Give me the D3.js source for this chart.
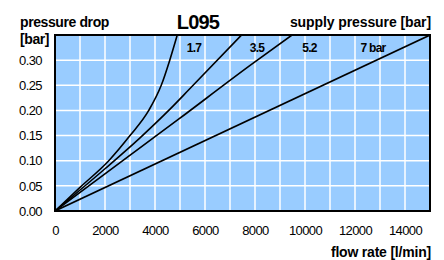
<!DOCTYPE html>
<html>
<head>
<meta charset="utf-8">
<script src="https://cdn.jsdelivr.net/npm/d3@7"></script>
<style>
  html, body { margin: 0; padding: 0; background: #fff; }
  svg { display: block; font-family: 'Liberation Sans', Arial, Helvetica, sans-serif; }
</style>
</head>
<body>
<div id="chart"></div>
<script>
// Pressure drop curves per supply pressure (flow in l/min, drop in bar)
const series = ['1.7', '3.5', '5.2', '7 bar'];
const flow17 = [0, 1000, 2150, 3000, 3750, 4250, 4590, 4890];
const drop17 = [0, 0.047, 0.10, 0.15, 0.20, 0.25, 0.30, 0.35];
const flow35 = [0, 2000, 3390, 4590, 5390, 7460];
const drop35 = [0, 0.084, 0.145, 0.202, 0.243, 0.35];
const flow52 = [0, 4930, 7790, 9480];
const drop52 = [0, 0.182, 0.289, 0.35];
const flow70 = [0, 15000];
const drop70 = [0, 0.35];
const xTicks = [0, 2000, 4000, 6000, 8000, 10000, 12000, 14000];
const yTicks = [0, 0.05, 0.10, 0.15, 0.20, 0.25, 0.30];
// label anchors in data units
const labelFlow = [5560, 8080, 10180, 12720];
const labelDrop = [0.322, 0.322, 0.322, 0.322];

const W = 444, H = 260;
const margin = { top: 35, right: 14, bottom: 49, left: 55 };

const svg = d3.select('#chart').append('svg')
  .attr('width', W)
  .attr('height', H);

const x = d3.scaleLinear().domain([0, 15000]).range([margin.left, W - margin.right]);
const y = d3.scaleLinear().domain([0, 0.35]).range([H - margin.bottom, margin.top]);

// Plot background
svg.append('rect')
  .attr('x', x(0)).attr('y', y(0.35))
  .attr('width', x(15000) - x(0)).attr('height', y(0) - y(0.35))
  .attr('fill', '#99ccff');

// Grid
svg.append('g')
  .selectAll('line.vg')
  .data(d3.range(1000, 15000, 1000))
  .join('line')
  .attr('x1', d => x(d)).attr('x2', d => x(d))
  .attr('y1', y(0.35)).attr('y2', y(0))
  .attr('stroke', '#fff')
  .attr('stroke-width', 1.5);

svg.append('g')
  .selectAll('line.hg')
  .data(yTicks.filter(d => d > 0))
  .join('line')
  .attr('x1', x(0)).attr('x2', x(15000))
  .attr('y1', d => y(d)).attr('y2', d => y(d))
  .attr('stroke', '#fff')
  .attr('stroke-width', 1.5);

// Curves
const clipId = 'plot-clip';
svg.append('clipPath').attr('id', clipId)
  .append('rect')
  .attr('x', x(0)).attr('y', y(0.35))
  .attr('width', x(15000) - x(0)).attr('height', y(0) - y(0.35));

const line = d3.line()
  .x(d => x(d[0]))
  .y(d => y(d[1]))
  .curve(d3.curveMonotoneX);

const curves = [
  d3.zip(flow17, drop17),
  d3.zip(flow35, drop35),
  d3.zip(flow52, drop52),
  d3.zip(flow70, drop70)
];

svg.append('g')
  .attr('clip-path', `url(#${clipId})`)
  .selectAll('path')
  .data(curves)
  .join('path')
  .attr('d', line)
  .attr('fill', 'none')
  .attr('stroke', '#000')
  .attr('stroke-width', 1.6);

// Series labels
svg.append('g')
  .selectAll('text')
  .data(series)
  .join('text')
  .attr('x', (d, i) => x(labelFlow[i]))
  .attr('y', (d, i) => y(labelDrop[i]))
  .attr('text-anchor', 'middle')
  .attr('dominant-baseline', 'middle')
  .attr('font-size', '12px')
  .attr('font-weight', 'bold')
  .attr('letter-spacing', '-0.7px')
  .text(d => d);

// Frame
svg.append('rect')
  .attr('x', x(0)).attr('y', y(0.35))
  .attr('width', x(15000) - x(0)).attr('height', y(0) - y(0.35))
  .attr('fill', 'none')
  .attr('stroke', '#000')
  .attr('stroke-width', 2);

// Axes
const xAxis = svg.append('g')
  .attr('transform', `translate(0,${y(0) + 12})`)
  .call(d3.axisBottom(x).tickValues(xTicks).tickSize(0).tickFormat(d3.format('d')));
xAxis.select('.domain').remove();
xAxis.selectAll('text')
  .attr('font-size', '13px')
  .attr('font-family', 'Liberation Sans, Arial, sans-serif')
  .attr('letter-spacing', '-0.6px')
  .attr('fill', '#000');

const yAxis = svg.append('g')
  .attr('transform', `translate(${x(0) - 10},0)`)
  .call(d3.axisLeft(y).tickValues(yTicks).tickSize(0).tickFormat(d3.format('.2f')));
yAxis.select('.domain').remove();
yAxis.selectAll('text')
  .attr('font-size', '13px')
  .attr('font-family', 'Liberation Sans, Arial, sans-serif')
  .attr('letter-spacing', '-0.6px')
  .attr('fill', '#000');

// Titles
svg.append('text')
  .attr('x', 20).attr('y', 27)
  .attr('font-size', '14px').attr('font-weight', 'bold')
  .attr('letter-spacing', '-0.4px')
  .text('pressure drop');

svg.append('text')
  .attr('x', 20).attr('y', 44)
  .attr('font-size', '14px').attr('font-weight', 'bold')
  .attr('letter-spacing', '-0.4px')
  .text('[bar]');

svg.append('text')
  .attr('x', 198).attr('y', 29)
  .attr('text-anchor', 'middle')
  .attr('font-size', '20px').attr('font-weight', 'bold')
  .attr('letter-spacing', '-0.8px')
  .text('L095');

svg.append('text')
  .attr('x', 431).attr('y', 27)
  .attr('text-anchor', 'end')
  .attr('font-size', '14px').attr('font-weight', 'bold')
  .attr('letter-spacing', '-0.1px')
  .text('supply pressure [bar]');

svg.append('text')
  .attr('x', 431).attr('y', 257)
  .attr('text-anchor', 'end')
  .attr('font-size', '14px').attr('font-weight', 'bold')
  .attr('letter-spacing', '-0.2px')
  .text('flow rate [l/min]');
</script>
</body>
</html>
